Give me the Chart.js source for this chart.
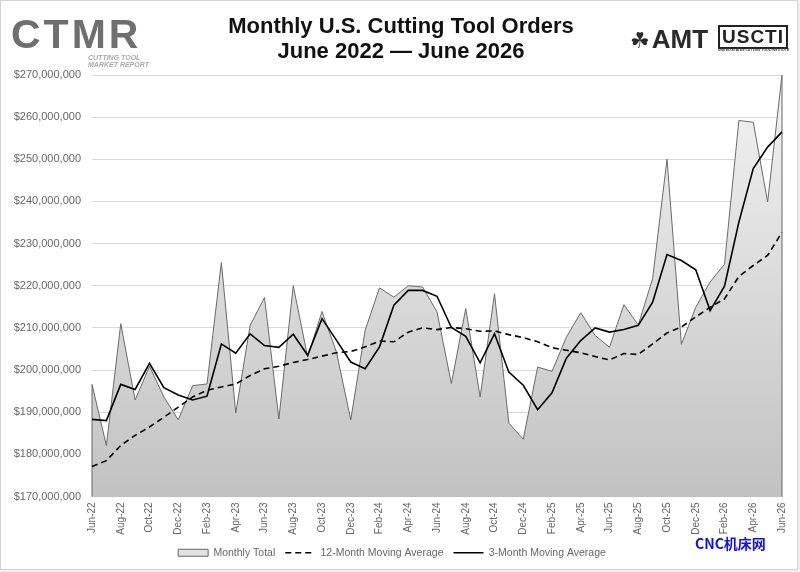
<!DOCTYPE html>
<html>
<head>
<meta charset="utf-8">
<script src="https://cdn.jsdelivr.net/npm/chart.js@4.4.1/dist/chart.umd.min.js"></script>
<style>
  html, body { margin: 0; padding: 0; background: #efefef; }
  #frame { position: absolute; left: 0; top: 0; width: 796px; height: 568px; border: 1px solid #d2d2d2; background: #fff; }
  #wrap { position: absolute; left: 0; top: 0; width: 800px; height: 572px; }
  canvas { position: absolute; left: 0; top: 0; }
  .abs { position: absolute; white-space: nowrap; }
  #title { left: 0; width: 802px; top: 13px; text-align: center; font: bold 22px "Liberation Sans", Arial, sans-serif; line-height: 25px; color: #111; }
  #ctmr { left: 11px; top: 11px; font: bold 41px "Liberation Sans", Arial, sans-serif; color: #6f6f6f; letter-spacing: 3px; }
  #ctmr-sub { left: 88px; top: 54px; font: italic bold 7px "Liberation Sans", Arial, sans-serif; line-height: 7px; color: #a8a8a8; }
  #amt { left: 630px; top: 24px; font: bold 26px "Liberation Sans", Arial, sans-serif; color: #2a2a2a; }
  #amt span { font: 22px "DejaVu Sans", sans-serif; margin-right: 2px; }
  #uscti { left: 718px; top: 25px; width: 66px; height: 20px; border: 2px solid #222; text-align: center; font: bold 19px "Liberation Sans", Arial, sans-serif; line-height: 20px; color: #222; letter-spacing: 1px; }
  #uscti-sub { left: 718px; top: 48px; width: 70px; font: bold 3.4px "Liberation Sans", Arial, sans-serif; line-height: 4px; color: #333; text-align: center; }
  #wm { left: 695px; top: 533px; font: bold 14px "Noto Sans CJK SC", sans-serif; color: #1010f0; }
</style>
</head>
<body>
<div id="frame"></div>
<div id="wrap">
  <canvas id="ordersChart" width="800" height="572"></canvas>
  <div class="abs" id="title">Monthly U.S. Cutting Tool Orders<br>June 2022 — June 2026</div>
  <div class="abs" id="ctmr">CTMR</div>
  <div class="abs" id="ctmr-sub">CUTTING TOOL<br>MARKET REPORT</div>
  <div class="abs" id="amt"><span>☘</span>AMT</div>
  <div class="abs" id="uscti">USCTI</div>
  <div class="abs" id="uscti-sub">UNITED STATES CUTTING TOOL INSTITUTE</div>
  <div class="abs" id="wm">CNC机床网</div>
</div>
<script>
(function () {
  'use strict';

  // Months, June 2022 to June 2026
  var months = [
    'Jun-22', 'Jul-22', 'Aug-22', 'Sep-22', 'Oct-22', 'Nov-22', 'Dec-22',
    'Jan-23', 'Feb-23', 'Mar-23', 'Apr-23', 'May-23', 'Jun-23', 'Jul-23', 'Aug-23', 'Sep-23', 'Oct-23', 'Nov-23', 'Dec-23',
    'Jan-24', 'Feb-24', 'Mar-24', 'Apr-24', 'May-24', 'Jun-24', 'Jul-24', 'Aug-24', 'Sep-24', 'Oct-24', 'Nov-24', 'Dec-24',
    'Jan-25', 'Feb-25', 'Mar-25', 'Apr-25', 'May-25', 'Jun-25', 'Jul-25', 'Aug-25', 'Sep-25', 'Oct-25', 'Nov-25', 'Dec-25',
    'Jan-26', 'Feb-26', 'Mar-26', 'Apr-26', 'May-26', 'Jun-26'
  ];

  // values in millions of dollars
  var monthlyTotal = [
    196.6, 182.1, 211.0, 192.9, 200.9, 193.6, 188.2,
    196.3, 196.7, 225.5, 189.8, 210.6, 217.2, 188.4, 220.0, 203.1, 213.9, 204.3, 188.2,
    209.4, 219.5, 217.3, 220.0, 219.7, 213.8, 196.8, 214.6, 193.6, 218.1, 187.4, 183.6,
    200.7, 199.7, 207.8, 213.6, 208.2, 205.4, 215.5, 210.7, 221.7, 250.0, 206.1, 214.9,
    220.9, 225.1, 259.2, 258.8, 239.9, 270.0
  ];

  var avg12 = [
    177.1, 178.5, 182.1, 184.5, 186.5, 188.8, 191.2,
    193.6, 195.2, 196.0, 196.7, 198.7, 200.3, 200.9, 201.8, 202.5, 203.3, 204.1, 204.4,
    205.5, 206.9, 206.7, 209.0, 210.0, 209.6, 210.1, 209.8, 209.2, 209.3, 208.4, 207.7,
    206.7, 205.3, 204.7, 204.1, 203.2, 202.4, 203.9, 203.7, 206.2, 208.8, 210.2, 212.6,
    214.9, 216.9, 222.2, 224.8, 227.2, 232.7
  ];

  var avg3 = [
    188.3, 188.0, 196.6, 195.4, 201.6, 195.8, 194.1,
    192.9, 193.8, 206.2, 204.0, 208.6, 205.8, 205.4, 208.5, 203.5, 212.2, 207.1, 201.9,
    200.3, 205.5, 215.4, 218.9, 218.9, 217.5, 210.1, 208.0, 201.7, 208.6, 199.5, 196.4,
    190.6, 194.6, 202.8, 207.0, 210.0, 209.0, 209.6, 210.6, 216.1, 227.4, 226.0, 223.8,
    214.1, 219.9, 235.1, 247.8, 252.9, 256.5
  ];

  var yTicks = [170, 180, 190, 200, 210, 220, 230, 240, 250, 260, 270];

  var textGray = '#666666';
  var font = "'Liberation Sans', Arial, sans-serif";

  function areaFill(ctx) {
    var area = ctx.chart.chartArea;
    if (!area) return '#dddddd';
    var g = ctx.chart.ctx.createLinearGradient(0, area.top, 0, area.bottom);
    g.addColorStop(0, '#f3f3f3');
    g.addColorStop(1, '#c2c2c2');
    return g;
  }

  // close the area's left and right edges down to the axis
  var areaEdges = {
    id: 'areaEdges',
    afterDatasetDraw: function (chart, args) {
      if (args.index !== 0) return;
      var pts = args.meta.data;
      if (!pts.length) return;
      var c = chart.ctx;
      var bottom = chart.chartArea.bottom;
      c.save();
      c.strokeStyle = '#666666';
      c.lineWidth = 1;
      c.beginPath();
      c.moveTo(pts[0].x, pts[0].y);
      c.lineTo(pts[0].x, bottom);
      c.moveTo(pts[pts.length - 1].x, pts[pts.length - 1].y);
      c.lineTo(pts[pts.length - 1].x, bottom);
      c.stroke();
      c.restore();
    }
  };

  new Chart(document.getElementById('ordersChart'), {
    type: 'line',
    plugins: [areaEdges],
    data: {
      labels: months,
      datasets: [{
        label: 'Monthly Total',
        data: monthlyTotal,
        borderColor: '#6a6a6a',
        borderWidth: 1,
        backgroundColor: areaFill,
        fill: 'start',
        pointRadius: 0,
        tension: 0,
        order: 3,
      }, {
        label: '12-Month Moving Average',
        data: avg12,
        borderColor: '#000000',
        borderWidth: 1.6,
        borderDash: [6, 4],
        fill: false,
        pointRadius: 0,
        tension: 0,
        order: 2,
      }, {
        label: '3-Month Moving Average',
        data: avg3,
        borderColor: '#000000',
        borderWidth: 1.6,
        fill: false,
        pointRadius: 0,
        tension: 0,
        order: 1,
      }],
    },
    options: {
      responsive: false,
      animation: false,
      layout: { padding: { left: 0, right: 16, top: 75, bottom: 4 } },
      plugins: {
        title: { display: false },
        tooltip: { enabled: false },
        legend: {
          position: 'bottom',
          labels: {
            color: textGray,
            font: { family: font, size: 10.5 },
            usePointStyle: true,
            pointStyleWidth: 30,
            boxHeight: 7,
            padding: 10,
            generateLabels: function (chart) {
              return chart.data.datasets.map(function (ds, i) {
                return {
                  text: ds.label,
                  datasetIndex: i,
                  fillStyle: i === 0 ? '#e2e2e2' : 'rgba(0,0,0,0)',
                  strokeStyle: i === 0 ? '#666666' : '#000000',
                  lineWidth: i === 0 ? 1 : 1.6,
                  lineDash: ds.borderDash || [],
                  pointStyle: i === 0 ? 'rect' : 'line',
                  fontColor: textGray,
                  hidden: false,
                };
              });
            },
          },
        },
      },
      scales: {
        x: {
          grid: { display: false, drawTicks: false },
          border: { color: '#bdbdbd' },
          afterFit: function (scale) { scale.height = 41; },
          ticks: {
            color: textGray,
            font: { family: font, size: 10 },
            autoSkip: false,
            maxRotation: 90,
            minRotation: 90,
            padding: 6,
            callback: function (v, i) { return i % 2 === 0 ? months[i] : null; },
          },
        },
        y: {
          min: yTicks[0],
          max: yTicks[yTicks.length - 1],
          afterFit: function (scale) { scale.width = 92; },
          afterBuildTicks: function (scale) {
            scale.ticks = yTicks.map(function (v) { return { value: v }; });
          },
          grid: { color: '#d9d9d9', drawTicks: false },
          border: { display: false },
          ticks: {
            color: textGray,
            font: { family: font, size: 11 },
            padding: 11,
            callback: function (v) { return '$' + (v * 1000000).toLocaleString('en-US'); },
          },
        },
      },
    },
  });
})();
</script>
</body>
</html>
